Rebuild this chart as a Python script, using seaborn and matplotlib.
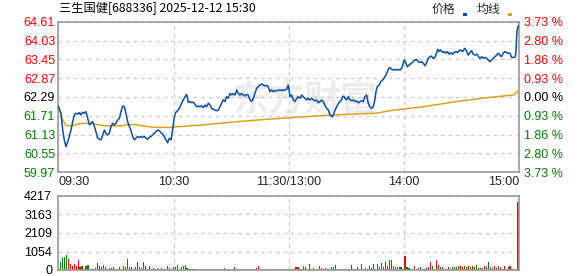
import numpy as np
import pandas as pd
import matplotlib
matplotlib.use("Agg")
import matplotlib.pyplot as plt
from matplotlib.patches import Rectangle
import seaborn as sns

# ---------------- data ----------------
title = "三生国健[688336] 2025-12-12 15:30"
legend_labels = ["价格", "均线"]
time_labels = ["09:30", "10:30", "11:30/13:00", "14:00", "15:00"]
time_ticks = [0, 60, 120, 180, 240]
price_ticks = [64.61, 64.03, 63.45, 62.87, 62.29, 61.71, 61.13, 60.55, 59.97]
pct_labels = ["3.73 %", "2.80 %", "1.86 %", "0.93 %", "0.00 %", "0.93 %", "1.86 %", "2.80 %", "3.73 %"]
vol_ticks = [0, 1054, 2109, 3163, 4217]
pre_close = 62.29

price_min = [0, 1.4, 2.3, 3.1, 4.0, 4.9, 5.7, 6.6, 7.5, 8.3, 9.2, 10.1, 11.0, 11.8, 12.7, 13.5, 14.4,
             15.3, 16.2, 17.0, 17.9, 18.8, 19.6, 20.5, 21.4, 22.2, 23.1, 24.0, 24.8, 25.7, 26.6, 27.4,
             28.3, 29.2, 30.0, 30.9, 31.8, 32.6, 33.5, 34.4, 35.2, 36.1, 37.0, 37.8, 38.7, 39.6, 40.4,
             41.3, 42.2, 43.0, 43.9, 44.8, 45.6, 46.5, 47.4, 48.2, 49.1, 50.0, 50.8, 51.7, 52.6, 53.5,
             54.3, 55.2, 56.1, 56.9, 57.8, 58.7, 59.5, 60.2, 60.9, 61.6, 62.5, 63.4, 64.2, 65.1, 66.0,
             66.8, 67.7, 68.6, 69.4, 70.3, 71.2, 72.0, 72.9, 73.8, 74.6, 75.5, 76.4, 77.2, 78.1, 79.0,
             79.8, 80.7, 81.6, 82.4, 83.3, 84.2, 85.0, 85.9, 86.8, 87.6, 88.5, 89.4, 90.3, 91.1, 92.0,
             92.9, 93.7, 94.6, 95.5, 96.3, 97.2, 98.1, 98.9, 99.8, 100.7, 101.5, 102.4, 103.3, 104.1,
             105.0, 105.9, 106.7, 107.6, 108.5, 109.3, 110.2, 111.1, 111.9, 112.8, 113.7, 114.5, 115.4,
             116.3, 117.1, 118.0, 118.9, 119.7, 120.3, 120.6, 121.5, 122.3, 123.2, 124.1, 124.9, 125.8,
             126.7, 127.5, 128.4, 129.3, 130.1, 131.0, 131.9, 132.7, 133.6, 134.5, 135.3, 136.2, 137.1,
             137.9, 138.8, 139.7, 140.6, 141.4, 142.3, 142.8, 143.5, 144.5, 145.8, 146.6, 147.5, 148.0,
             148.7, 149.2, 150.1, 151.0, 151.8, 152.7, 153.6, 154.4, 155.3, 156.2, 157.0, 157.9, 158.8,
             159.6, 160.5, 161.4, 162.2, 163.1, 164.0, 164.8, 165.4, 166.1, 167.1, 167.8, 168.8, 169.5,
             170.6, 171.3, 172.0, 172.7, 173.5, 174.4, 175.3, 176.1, 177.0, 177.9, 178.7, 179.6, 180.1,
             181.0, 181.7, 182.7, 183.9, 184.8, 185.7, 186.5, 187.4, 188.3, 189.1, 190.0, 190.9, 191.7,
             192.6, 193.5, 194.3, 195.2, 196.1, 196.9, 197.5, 198.3, 199.0, 200.1, 200.8, 201.8, 202.5,
             203.5, 204.2, 205.3, 206.0, 207.0, 207.7, 208.7, 209.4, 210.5, 211.2, 211.7, 212.6, 213.4,
             214.3, 215.2, 216.0, 216.9, 217.8, 218.6, 219.5, 220.4, 221.2, 222.1, 223.0, 223.8, 224.7,
             225.6, 226.4, 227.3, 228.2, 229.0, 229.9, 230.8, 231.6, 232.5, 233.4, 234.2, 235.1, 236.0,
             236.8, 237.7, 238.2, 238.6, 238.9, 239.4, 240.0]
price_val = [62.01, 61.79, 61.27, 60.97, 60.76, 60.91, 61.07, 61.27, 61.53, 61.74, 61.79, 61.76, 61.81,
             61.74, 61.82, 61.79, 61.84, 61.63, 61.43, 61.48, 61.53, 61.38, 61.22, 61.02, 60.99, 60.97,
             61.12, 61.27, 61.17, 61.12, 61.17, 61.38, 61.48, 61.43, 61.48, 61.58, 61.63, 61.84, 62.01,
             61.99, 61.79, 61.53, 61.38, 61.27, 61.07, 60.97, 61.02, 61.07, 61.05, 61.07, 61.05, 61.07,
             61.02, 60.99, 61.05, 61.07, 61.12, 61.17, 61.22, 61.27, 61.25, 61.19, 61.15, 61.07, 60.97,
             60.88, 61.02, 60.97, 61.27, 61.60, 61.79, 61.84, 61.89, 61.99, 62.10, 62.20, 62.30, 62.37,
             62.12, 62.15, 62.12, 62.13, 62.06, 61.99, 62.01, 61.99, 62.02, 61.96, 62.04, 61.99, 62.10,
             62.04, 61.94, 61.91, 61.89, 61.87, 61.89, 61.99, 62.10, 62.20, 62.15, 62.30, 62.25, 62.40,
             62.35, 62.40, 62.35, 62.51, 62.40, 62.35, 62.40, 62.35, 62.32, 62.37, 62.35, 62.20, 62.15,
             62.25, 62.40, 62.56, 62.61, 62.66, 62.69, 62.66, 62.63, 62.65, 62.61, 62.45, 62.51, 62.45,
             62.49, 62.47, 62.51, 62.49, 62.51, 62.49, 62.51, 62.53, 62.66, 62.45, 62.30, 62.35, 62.20,
             62.15, 62.25, 62.30, 62.25, 62.35, 62.30, 62.25, 62.20, 62.25, 62.20, 62.25, 62.20, 62.17,
             62.20, 62.11, 62.15, 62.20, 62.15, 62.04, 61.94, 61.89, 61.74, 61.70, 61.68, 61.79, 61.94,
             62.09, 62.15, 62.20, 62.30, 62.32, 62.25, 62.20, 62.30, 62.20, 62.18, 62.20, 62.15, 62.17,
             62.11, 62.15, 62.17, 62.15, 62.30, 62.35, 62.09, 61.99, 61.94, 61.99, 62.20, 62.46, 62.61,
             62.66, 62.76, 62.81, 62.86, 62.97, 63.07, 63.17, 63.20, 63.14, 63.12, 63.14, 63.12, 63.14,
             63.12, 63.17, 63.33, 63.43, 63.33, 63.22, 63.28, 63.33, 63.38, 63.43, 63.45, 63.38, 63.35,
             63.38, 63.33, 63.25, 63.35, 63.48, 63.53, 63.55, 63.48, 63.51, 63.64, 63.76, 63.69, 63.74,
             63.66, 63.69, 63.64, 63.69, 63.61, 63.66, 63.61, 63.66, 63.69, 63.66, 63.72, 63.74, 63.69,
             63.76, 63.79, 63.69, 63.58, 63.66, 63.72, 63.61, 63.58, 63.61, 63.55, 63.48, 63.53, 63.48,
             63.51, 63.48, 63.43, 63.38, 63.43, 63.48, 63.53, 63.58, 63.64, 63.58, 63.53, 63.64, 63.69,
             63.66, 63.64, 63.64, 63.51, 63.51, 63.51, 63.64, 64.15, 64.35, 64.48, 64.48]

avg_min = [0, 2.3, 4.0, 5.7, 7.5, 9.2, 11.0, 14.4, 17.9, 21.4, 24.8, 33.5, 35.2, 40.4, 43.9, 49.1,
           57.8, 60.9, 75.5, 92.9, 110.2, 120.3, 137.9, 155.3, 165.7, 172.7, 190.0, 207.4, 224.7,
           236.8, 238.6, 239.8]
avg_val = [62.01, 61.58, 61.42, 61.40, 61.41, 61.44, 61.47, 61.48, 61.47, 61.43, 61.40, 61.40, 61.44,
           61.44, 61.40, 61.36, 61.35, 61.37, 61.43, 61.53, 61.61, 61.65, 61.72, 61.77, 61.79, 61.87,
           61.99, 62.15, 62.28, 62.35, 62.42, 62.53]

vol_values = [475, 703, 760, 855, 608, 342, 247, 342, 228, 570,
              152, 228, 57, 228, 285, 57, 57, 76, 95, 418,
              228, 152, 285, 152, 76, 95, 95, 152, 57, 76,
              152, 76, 228, 152, 627, 152, 152, 57, 152, 475,
              190, 114, 475, 228, 57, 228, 57, 95, 57, 95,
              57, 95, 57, 57, 228, 95, 57, 152, 190, 285,
              57, 190, 228, 285, 95, 57,
              57, 57, 38, 57, 57, 38, 57, 57, 38, 57,
              57, 38, 57, 57, 38, 57, 57, 95, 57, 57,
              57, 76, 190, 57, 57, 57, 38, 57, 57, 57,
              57, 38, 57, 95, 247, 57, 57, 38, 57, 57,
              57, 38, 57, 57, 57, 57, 57, 57, 57, 38,
              57, 57, 76, 152, 152, 76, 76, 247, 152, 76,
              342, 76, 114, 57, 76, 228, 114, 57, 114, 57,
              76, 190, 152, 285, 57, 57, 57, 57, 57, 57,
              57, 285, 76, 57, 190, 76, 342, 57, 114, 57,
              247, 114, 342, 57, 342, 152, 380, 152, 475, 228,
              570, 570, 228, 152, 152, 152, 152, 57, 779, 152,
              95, 57, 76, 247, 57, 114, 190, 57, 76, 114,
              152, 437, 247, 76, 589, 285, 190, 152, 76, 57,
              152, 57, 152, 152, 190, 228, 228, 190, 228, 190,
              228, 152, 228, 152, 285, 114, 114, 114, 247, 152,
              437, 152, 114, 247, 114, 228, 152, 57, 247, 76,
              190, 228, 57, 57, 57, 3890]
vol_dirs = ("ggggrrrrrr" "grgggrgrgg" "rggrrggrrg" "rgrrrggggg" "rrgrggrrrr" "grgggrrrrr" "grrrgr"
            "gggggggggg" "gggggggrrr" "grrrgggggr" "ggrrrgggrr" "rgrgrgrggg"
            "grgrrrrggr" "rggrggrrgg" "gggrrrrrrr" "rrgrgrrgrg" "ggrrrgrrrg" "rgggrggrrg"
            "grrgrrgrrr" "rrgrrrgrgr" "rrgggrrrgr" "rgrggrrgrr" "ggrrrgrrrr" "grgrrr")

# ---------------- style ----------------
sns.set_theme(style="white")
plt.rcParams["font.family"] = ["Liberation Sans", "Noto Sans CJK SC", "DejaVu Sans"]
CJK = ["Noto Sans CJK SC", "DejaVu Sans"]
RED, GREEN, BLACK = "#ff0000", "#008000", "#000000"
BORDER = "#999999"
GRID = "#cccccc"

W, H = 578, 276
fig = plt.figure(figsize=(W / 100, H / 100), dpi=100)
L, R = 58.3, 519.3
axp = fig.add_axes([L / W, 1 - 172.3 / H, (R - L) / W, (172.3 - 21.7) / H])
axv = fig.add_axes([L / W, 1 - 270 / H, (R - L) / W, (270 - 196) / H])

# price panel
dfp = pd.DataFrame({"t": price_min, "p": price_val})
dfa = pd.DataFrame({"t": avg_min, "a": avg_val})
axp.text(0.535, 0.48, "东方财富", transform=axp.transAxes, ha="center", va="center",
         fontsize=26, fontweight="bold", color="#ececec", family=CJK, zorder=0.5)
sns.lineplot(data=dfa, x="t", y="a", ax=axp, color="#dca11d", lw=1.1, zorder=3)
sns.lineplot(data=dfp, x="t", y="p", ax=axp, color="#0b4fa3", lw=1.1, zorder=4)
axp.set_xlim(0, 240)
axp.set_ylim(price_ticks[-1], price_ticks[0])
axp.set_yticks(price_ticks)
axp.set_yticklabels([f"{v:.2f}" for v in price_ticks])
for lab, v in zip(axp.get_yticklabels(), price_ticks):
    lab.set_color(RED if v > pre_close + 1e-9 else (BLACK if abs(v - pre_close) < 1e-9 else GREEN))
axp.set_xticks(time_ticks)
axp.set_xticklabels(time_labels)
xl = axp.get_xticklabels()
xl[0].set_ha("left")
xl[-1].set_ha("right")
axp.tick_params(axis="y", length=0, pad=2.2, labelsize=9)
axp.tick_params(axis="x", length=0, pad=3, labelsize=9)
axp.grid(True, ls=(0, (3, 3)), color=GRID, lw=0.9)
axp.set_xlabel("")
axp.set_ylabel("")
for s in axp.spines.values():
    s.set_color(BORDER)
    s.set_linewidth(1.2)

axr = axp.twinx()
axr.set_ylim(price_ticks[-1], price_ticks[0])
axr.set_yticks(price_ticks)
axr.set_yticklabels(pct_labels)
for lab, v in zip(axr.get_yticklabels(), price_ticks):
    lab.set_color(RED if v > pre_close + 1e-9 else (BLACK if abs(v - pre_close) < 1e-9 else GREEN))
axr.tick_params(axis="y", length=0, pad=3.5, labelsize=9)
for s in axr.spines.values():
    s.set_visible(False)

# volume panel
n = min(len(vol_values), len(vol_dirs))
dfv = pd.DataFrame({"t": np.linspace(1.0, 239.3, n), "v": vol_values[:n], "d": list(vol_dirs[:n])})
sns.barplot(data=dfv, x="t", y="v", hue="d", palette={"r": RED, "g": GREEN}, native_scale=True,
            dodge=False, width=0.55, legend=False, errorbar=None, saturation=1, linewidth=0, ax=axv)
axv.set_xlim(0, 240)
axv.set_ylim(0, vol_ticks[-1])
axv.set_yticks(vol_ticks)
axv.set_yticklabels([str(v) for v in vol_ticks])
axv.set_xticks(time_ticks)
axv.set_xticklabels([])
axv.tick_params(axis="y", length=0, pad=4.5, labelsize=9, colors=BLACK)
axv.tick_params(axis="x", length=0)
axv.grid(True, ls=(0, (3, 3)), color=GRID, lw=0.9)
axv.set_axisbelow(True)
axv.set_xlabel("")
axv.set_ylabel("")
for s in axv.spines.values():
    s.set_color(BORDER)
    s.set_linewidth(1.2)

# title and legend
fig.text(59 / W, 1 - 9 / H, title, fontsize=8.8, family=CJK, ha="left", va="center", color=BLACK)
fig.text(431.5 / W, 1 - 9.5 / H, legend_labels[0], fontsize=8.6, family=CJK, ha="left", va="center")
fig.text(476.5 / W, 1 - 9.5 / H, legend_labels[1], fontsize=8.6, family=CJK, ha="left", va="center")
fig.patches.append(Rectangle((463.3 / W, 1 - 16 / H), 3.6 / W, 2.8 / H, transform=fig.transFigure,
                             color="#0b4fa3", lw=0))
fig.patches.append(Rectangle((507.5 / W, 1 - 16 / H), 4.5 / W, 2.8 / H, transform=fig.transFigure,
                             color="#dca11d", lw=0))

fig.savefig("out.png", dpi=100)
